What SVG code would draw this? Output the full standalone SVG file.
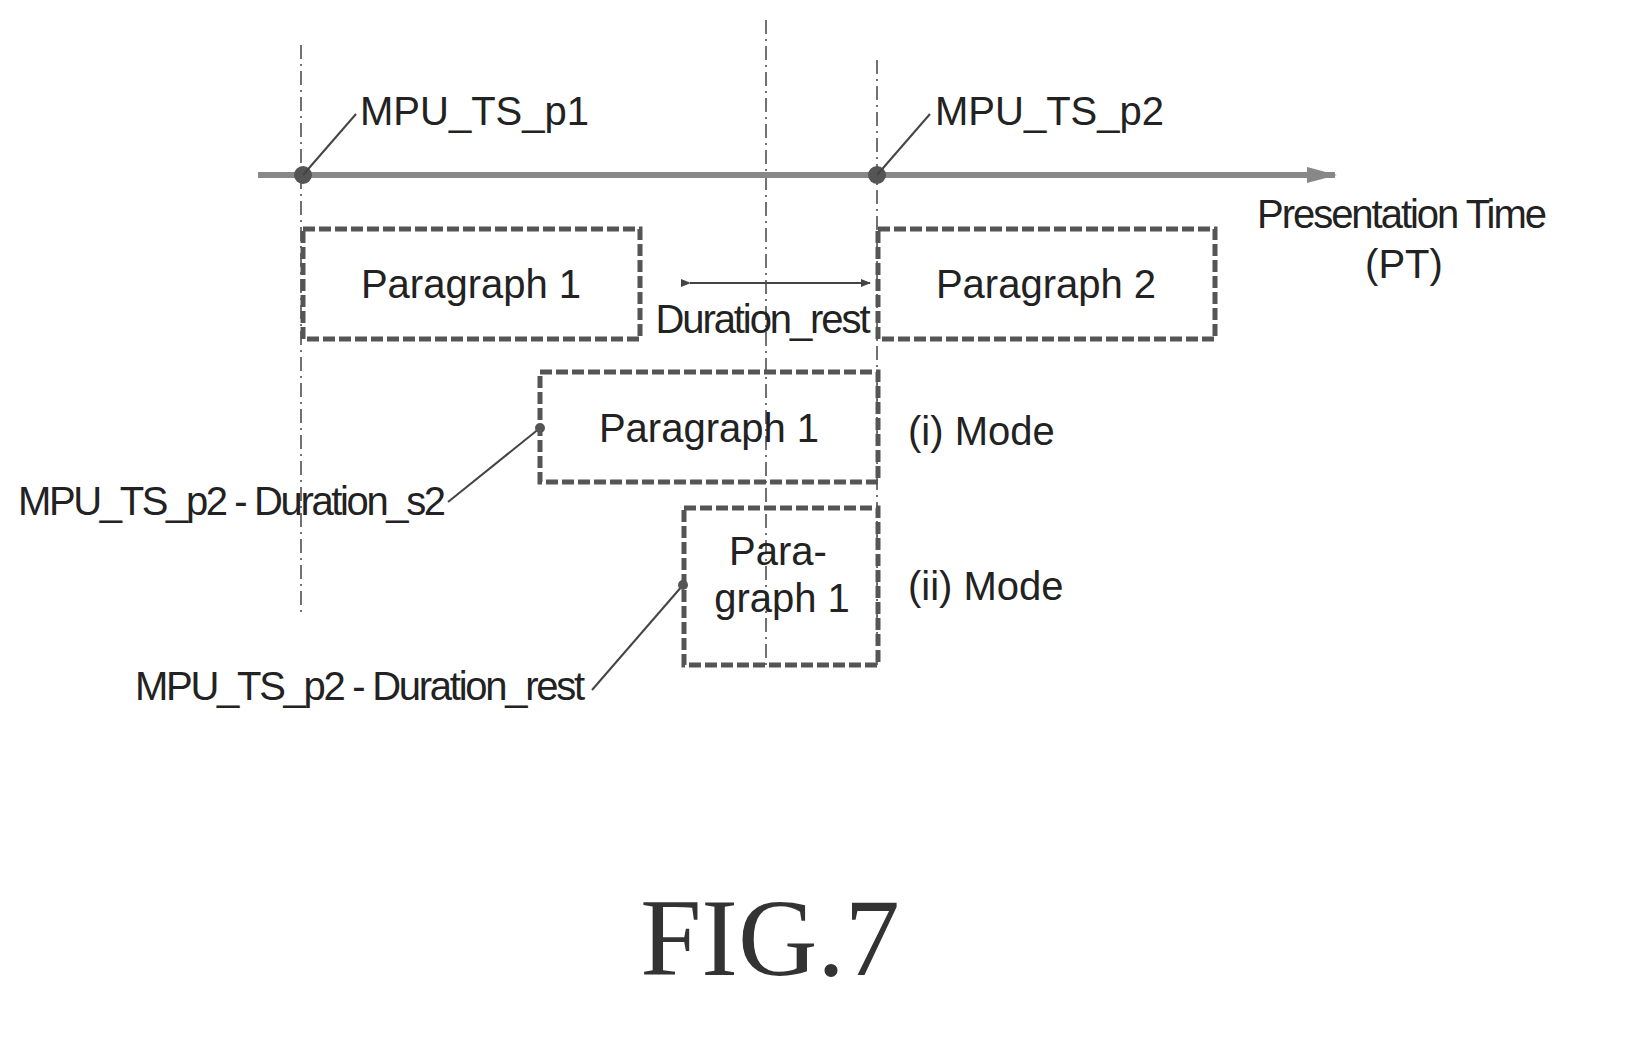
<svg xmlns="http://www.w3.org/2000/svg" width="1635" height="1039" viewBox="0 0 1635 1039">
<defs>
<style>
.t{font-family:"Liberation Sans",Arial,sans-serif;font-size:40px;fill:#222}
.box{fill:none;stroke:#555;stroke-width:5;stroke-dasharray:12,4}
.vl{stroke:#444;stroke-width:1.5;stroke-dasharray:14,5,2,5}
.ln{stroke:#444;stroke-width:2;fill:none}
</style>
<marker id="ah" markerWidth="10" markerHeight="8" refX="9" refY="4" orient="auto" markerUnits="userSpaceOnUse"><path d="M0,0L10,4L0,8z" fill="#444"/></marker>
<marker id="big" markerWidth="30" markerHeight="20" refX="28" refY="10" orient="auto" markerUnits="userSpaceOnUse"><path d="M0,2L30,10L0,18z" fill="#888"/></marker>
</defs>
<rect width="1635" height="1039" fill="#fff"/>
<g id="connectors">
<line class="vl" x1="301" y1="45" x2="301" y2="615"/>
<line class="vl" x1="766" y1="20" x2="766" y2="665"/>
<line class="vl" x1="877" y1="60" x2="877" y2="665"/>
<line x1="258" y1="175" x2="1335" y2="175" stroke="#888" stroke-width="6" marker-end="url(#big)"/>
<circle cx="303" cy="175" r="9" fill="#555"/>
<circle cx="877" cy="175" r="9" fill="#555"/>
<line class="ln" x1="303" y1="175" x2="356" y2="114"/>
<line class="ln" x1="877" y1="175" x2="930" y2="114"/>
<line class="ln" x1="690" y1="283" x2="870" y2="283" marker-start="url(#ah)" marker-end="url(#ah)"/>
<line class="ln" x1="448" y1="502" x2="540" y2="428"/>
<circle cx="540" cy="428" r="5" fill="#555"/>
<line class="ln" x1="592" y1="690" x2="683" y2="585"/>
<circle cx="683" cy="585" r="5" fill="#555"/>
</g>
<g id="p1"><rect class="box" x="303" y="229" width="337" height="110"/><text class="t" x="471" y="298" text-anchor="middle">Paragraph 1</text></g>
<g id="p2"><rect class="box" x="878" y="229" width="337" height="110"/><text class="t" x="1046" y="298" text-anchor="middle">Paragraph 2</text></g>
<g id="pi"><rect class="box" x="540" y="372" width="338" height="110"/><text class="t" x="709" y="442" text-anchor="middle">Paragraph 1</text></g>
<g id="pii"><rect class="box" x="684" y="508" width="194" height="157"/><text class="t" x="778" y="565" text-anchor="middle">Para-</text><text class="t" x="782" y="612" text-anchor="middle">graph 1</text></g>
<g id="labels">
<text class="t" x="360" y="125">MPU_TS_p1</text>
<text class="t" x="935" y="125">MPU_TS_p2</text>
<text class="t" x="1402" y="228" text-anchor="middle" textLength="290">Presentation Time</text>
<text class="t" x="1404" y="278" text-anchor="middle">(PT)</text>
<text class="t" x="763" y="333" text-anchor="middle" textLength="215">Duration_rest</text>
<text class="t" x="908" y="445">(i) Mode</text>
<text class="t" x="908" y="600">(ii) Mode</text>
<text class="t" x="18" y="515" textLength="428">MPU_TS_p2 - Duration_s2</text>
<text class="t" x="135" y="700" textLength="450">MPU_TS_p2 - Duration_rest</text>
<text x="770" y="975" text-anchor="middle" font-family="Liberation Serif,serif" font-size="110" fill="#333">FIG.7</text>
</g>
</svg>
